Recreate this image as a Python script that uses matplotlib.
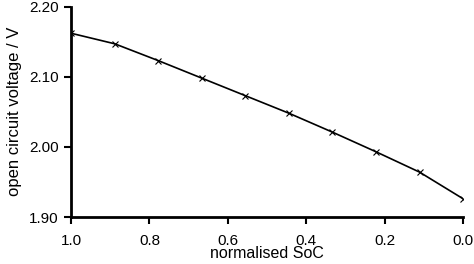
import matplotlib
matplotlib.use('Agg')
import matplotlib.pyplot as plt

# normalised state of charge and open circuit voltage readings
soc = [1.0, 8/9, 7/9, 6/9, 5/9, 4/9, 3/9, 2/9, 1/9, 0.0]
ocv = [2.162, 2.147, 2.123, 2.098, 2.073, 2.048, 2.021, 1.993, 1.964, 1.926]

x_ticks = [1.0, 0.8, 0.6, 0.4, 0.2, 0.0]
y_ticks = [1.90, 2.00, 2.10, 2.20]

plt.rcParams['font.family'] = ['Liberation Sans', 'DejaVu Sans']

fig = plt.figure(figsize=(4.74, 2.64), dpi=100)
ax = fig.add_axes([0.150, 0.178, 0.827, 0.797])

ax.plot(soc, ocv, color='black', linewidth=1.2, marker='x',
        markersize=4.5, markeredgewidth=0.8)

ax.set_xlim(1.0, 0.0)
ax.set_ylim(1.90, 2.20)
ax.set_xticks(x_ticks)
ax.set_xticklabels(['%.1f' % t for t in x_ticks])
ax.set_yticks(y_ticks)
ax.set_yticklabels(['%.2f' % t for t in y_ticks])

for side in ['top', 'right']:
    ax.spines[side].set_visible(False)
for side in ['left', 'bottom']:
    ax.spines[side].set_linewidth(2)

ax.tick_params(direction='out', length=5, width=1.5, labelsize=11)
ax.tick_params(axis='x', pad=7)
ax.tick_params(axis='y', pad=4)
ax.set_xlabel('normalised SoC', fontsize=11.5, labelpad=-1)
ax.set_ylabel('open circuit voltage / V', fontsize=12, labelpad=5)

fig.savefig('out.png', dpi=100)
